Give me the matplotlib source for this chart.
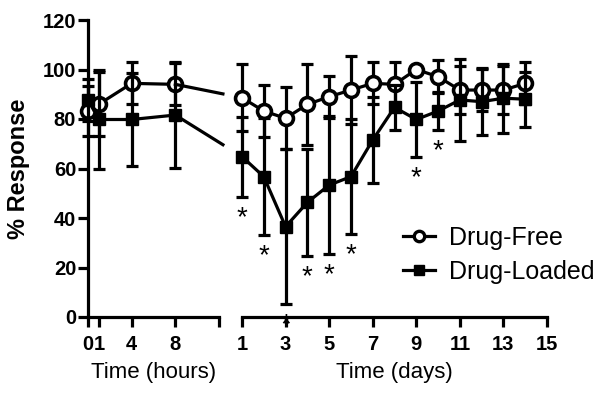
import matplotlib
matplotlib.use("Agg")
import matplotlib.pyplot as plt
from matplotlib.lines import Line2D
import numpy as np

plt.rcParams['font.family'] = ['Liberation Sans', 'DejaVu Sans']

# ---- data ----
hours = [0, 1, 4, 8]
free_h = [83.2, 86.0, 94.4, 94.0]
free_h_sd = [10.0, 13.0, 8.5, 8.5]
loaded_h = [87.7, 79.8, 79.8, 81.6]
loaded_h_sd = [8.5, 20.0, 18.8, 21.3]

days = [1, 2, 3, 4, 5, 6, 7, 8, 9, 10, 11, 12, 13, 14]
free_d = [88.6, 83.2, 80.3, 85.9, 89.0, 91.7, 94.4, 94.0, 100.0, 97.1, 91.7, 91.7, 91.7, 94.4]
free_d_sd = [13.6, 10.5, 12.5, 16.3, 8.4, 13.9, 8.5, 8.9, 1.5, 6.7, 9.8, 8.5, 9.8, 8.5]
loaded_d = [64.8, 56.7, 36.5, 46.3, 53.3, 56.7, 71.5, 84.7, 79.8, 83.2, 87.7, 87.0, 88.4, 88.0]
loaded_d_sd = [16.2, 23.6, 31.3, 21.5, 27.8, 23.2, 17.5, 9.1, 15.0, 7.6, 16.5, 13.5, 13.9, 11.1]
signif_days = [1, 2, 3, 4, 5, 6, 9, 10]

y_ticks = [0, 20, 40, 60, 80, 100, 120]
hour_ticks = [0, 1, 4, 8, 12]
hour_labels = ['0', '1', '4', '8', '']
day_ticks = [1, 3, 5, 7, 9, 11, 13, 15]

W, H = 602, 397
fig = plt.figure(figsize=(W / 100, H / 100), dpi=100)

axL = fig.add_axes([88 / W, 80 / H, (219 - 88) / W, 297 / H])
axR = fig.add_axes([242 / W, 80 / H, (547 - 242) / W, 297 / H])

lw = 2.3
ekw = dict(color='black', lw=lw, capsize=4.5, capthick=lw, clip_on=False)

def draw(ax, x, f, fsd, l, lsd):
    ax.errorbar(x, f, yerr=fsd, fmt='none', zorder=2, **ekw)
    ax.plot(x, f, '-', color='black', lw=lw, marker='o', ms=10, mfc='white',
            mec='black', mew=2.6, zorder=3, clip_on=False)
    ax.errorbar(x, l, yerr=lsd, fmt='none', zorder=4, **ekw)
    ax.plot(x, l, '-', color='black', lw=lw, marker='s', ms=9, mfc='black',
            mec='black', zorder=5, clip_on=False)

draw(axL, hours, free_h, free_h_sd, loaded_h, loaded_h_sd)
draw(axR, days, free_d, free_d_sd, loaded_d, loaded_d_sd)

for ax in (axL, axR):
    ax.set_ylim(0, 120)
    for s in ('top', 'right'):
        ax.spines[s].set_visible(False)
    for s in ('left', 'bottom'):
        ax.spines[s].set_linewidth(2.3)
    ax.tick_params(width=2.3, length=7, direction='out', labelsize=14.5)
    ax.tick_params(axis='x', pad=6)
    ax.tick_params(axis='y', pad=1.5)
    ax.patch.set_alpha(0)

axL.set_xlim(0, 12)
axL.set_xticks(hour_ticks)
axL.set_xticklabels(hour_labels, fontweight='bold')
axL.set_yticks(y_ticks)
axL.set_yticklabels([str(v) for v in y_ticks], fontweight='bold')
axL.set_xlabel('Time (hours)', fontsize=16, labelpad=6)
axL.set_ylabel('% Response', fontsize=17, fontweight='bold', labelpad=9)

axR.set_xlim(1, 15)
axR.set_xticks(day_ticks)
axR.set_xticklabels([str(d) for d in day_ticks], fontweight='bold')
axR.spines['left'].set_visible(False)
axR.tick_params(axis='y', left=False, labelleft=False)
axR.set_xlabel('Time (days)', fontsize=16, labelpad=6)

# significance asterisks
for d in signif_days:
    i = days.index(d)
    axR.text(d, loaded_d[i] - loaded_d_sd[i] - 11.5, '*', ha='center', va='baseline',
             fontsize=20, clip_on=False, zorder=6)

# connecting lines across the axis break
fig.canvas.draw()
inv = fig.transFigure.inverted()
gap_end = axL.transAxes.transform((1.03, 0))[0]
for fv_h, fv_d in ((free_h[-1], free_d[0]), (loaded_h[-1], loaded_d[0])):
    p0 = axL.transData.transform((hours[-1], fv_h))
    p1 = axR.transData.transform((days[0], fv_d))
    t = (gap_end - p0[0]) / (p1[0] - p0[0])
    pe = p0 + (p1 - p0) * t
    a = inv.transform(p0)
    b = inv.transform(pe)
    fig.add_artist(Line2D([a[0], b[0]], [a[1], b[1]], color='black', lw=lw,
                          transform=fig.transFigure, zorder=1))

# legend
h1 = Line2D([], [], color='black', lw=lw, marker='o', ms=7.5, mfc='white', mew=2.4)
h2 = Line2D([], [], color='black', lw=lw, marker='s', ms=6.5)
axR.legend([h1, h2], ['Drug-Free', 'Drug-Loaded'], loc='center left',
           bbox_to_anchor=(0.486, 0.21), frameon=False, fontsize=18,
           handlelength=1.3, handletextpad=0.55, labelspacing=0.4, borderpad=0)

fig.savefig('out.png', dpi=100)
